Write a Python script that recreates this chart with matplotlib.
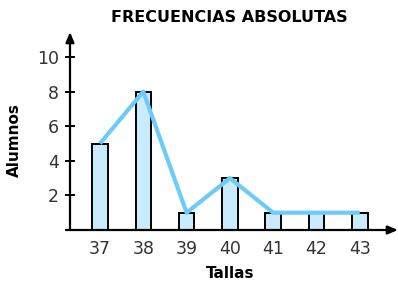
import matplotlib
matplotlib.use("Agg")
import matplotlib.pyplot as plt

tallas = [37, 38, 39, 40, 41, 42, 43]
alumnos = [5, 8, 1, 3, 1, 1, 1]
yticks = [2, 4, 6, 8, 10]

W, H = 398, 285
fig = plt.figure(figsize=(W/100, H/100), dpi=100)
# axes: left at pixel 70, right 398, bottom pixel 230, top pixel 32
ax = fig.add_axes([70/W, (H-230)/H, (398-70)/W, (230-32)/H])
ax.set_xlim(37 - 30/43.3, 37 + 298/43.3)
ax.set_ylim(0, 198/17.3)

ax.bar(tallas, alumnos, width=0.36, color="#c9ebfd", edgecolor="black", linewidth=1.4, zorder=2)
ax.plot(tallas, alumnos, color="#6ccbf9", linewidth=3, zorder=3, solid_capstyle="butt")

for s in ax.spines.values():
    s.set_visible(False)
ax.set_xticks(tallas)
ax.set_xticklabels([str(t) for t in tallas])
ax.set_yticks(yticks)
ax.set_yticklabels([str(v) for v in yticks])
ax.tick_params(axis="x", length=0, pad=7, labelsize=12.5, colors="#333333")
ax.tick_params(axis="y", length=0, pad=8, labelsize=12.5, colors="#333333")
for v in yticks:
    ax.plot([-4/328, 4/328], [v, v], transform=ax.get_yaxis_transform(), color="black", lw=1.4, clip_on=False)
# axes with arrows
ax.annotate("", xy=(1.0, 0), xytext=(-4/328, 0), xycoords="axes fraction",
            arrowprops=dict(arrowstyle="-|>,head_length=0.6,head_width=0.25", color="black", lw=1.6, shrinkA=0, shrinkB=0))
ax.annotate("", xy=(0, 1.0), xytext=(0, 0), xycoords="axes fraction",
            arrowprops=dict(arrowstyle="-|>,head_length=0.6,head_width=0.25", color="black", lw=1.6, shrinkA=0, shrinkB=0))

fig.text(229/W, 1 - 17/H, "FRECUENCIAS ABSOLUTAS", ha="center", va="center", fontsize=11.5, fontweight="bold")
fig.text(14/W, 1 - 140/H, "Alumnos", ha="center", va="center", rotation=90, fontsize=11, fontweight="bold")
fig.text(230/W, 1 - 274/H, "Tallas", ha="center", va="center", fontsize=11, fontweight="bold")

fig.savefig("out.png", dpi=100)
